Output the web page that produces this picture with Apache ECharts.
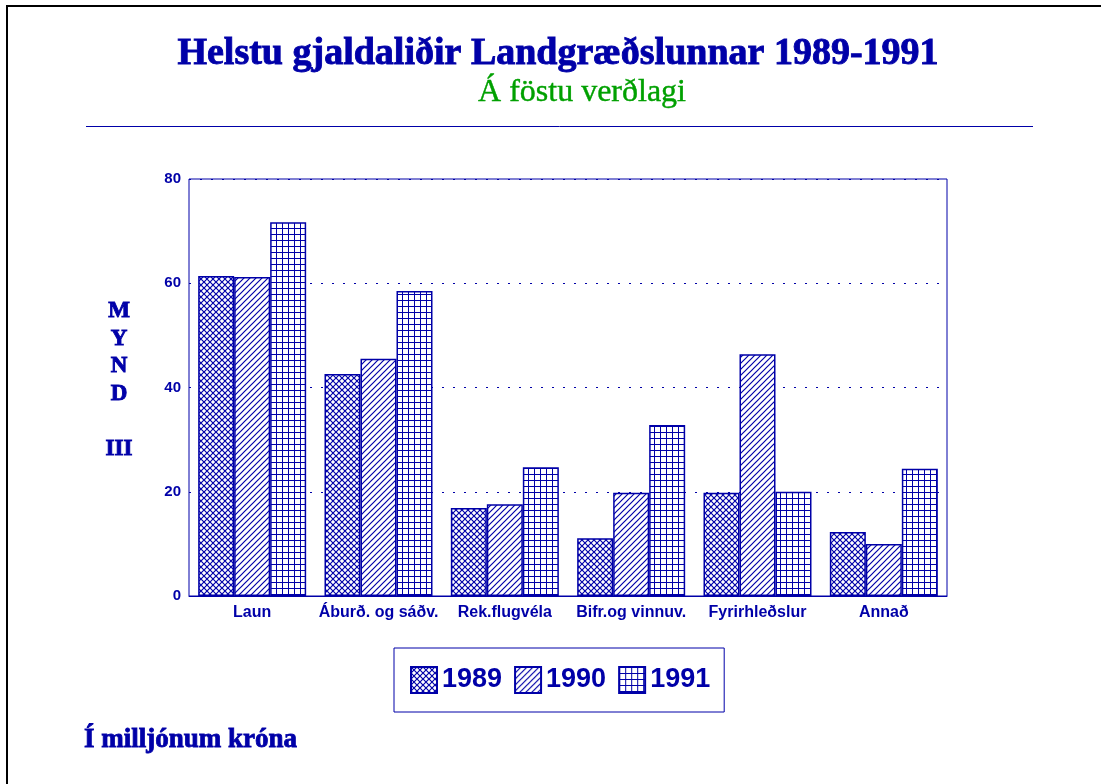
<!DOCTYPE html>
<html>
<head>
<meta charset="utf-8">
<script src="https://cdn.jsdelivr.net/npm/echarts@6/dist/echarts.min.js"></script>
<style>
  html, body { margin: 0; padding: 0; background: #fff; }
  #chart { width: 1101px; height: 784px; }
</style>
</head>
<body>
<div id="chart"></div>
<script>
// gögn lesin af myndinni (milljónir króna)
const categories = ['Laun', 'Áburð. og sáðv.', 'Rek.flugvéla', 'Bifr.og vinnuv.', 'Fyrirhleðslur', 'Annað'];
const years = ['1989', '1990', '1991'];
const v1989 = [61.4, 42.6, 16.9, 11.1, 19.8, 12.3];
const v1990 = [61.2, 45.5, 17.6, 19.8, 46.4, 10.0];
const v1991 = [71.7, 58.5, 24.7, 32.8, 20.0, 24.4];
const yTicks = [0, 20, 40, 60, 80];

const BLUE = '#0000a8';

// mynstur fyrir súlurnar
function makePattern(kind) {
    const s = 6;
    const c = document.createElement('canvas');
    c.width = s; c.height = s;
    const g = c.getContext('2d');
    g.fillStyle = '#fff';
    g.fillRect(0, 0, s, s);
    g.strokeStyle = BLUE;
    g.lineWidth = 1.2;
    g.beginPath();
    if (kind === 'cross') {
        g.moveTo(0, 0); g.lineTo(s, s);
        g.moveTo(s, 0); g.lineTo(0, s);
    } else if (kind === 'diag') {
        g.moveTo(-1, s + 1); g.lineTo(s + 1, -1);
        g.moveTo(-1, 1); g.lineTo(1, -1);
        g.moveTo(s - 1, s + 1); g.lineTo(s + 1, s - 1);
    } else {
        g.lineWidth = 1;
        g.moveTo(0, 0.5); g.lineTo(s, 0.5);
        g.moveTo(0.5, 0); g.lineTo(0.5, s);
    }
    g.stroke();
    return { image: c, repeat: 'repeat' };
}

const patterns = [makePattern('cross'), makePattern('diag'), makePattern('grid')];
const values = [v1989, v1990, v1991];

const chart = echarts.init(document.getElementById('chart'));

const serif = '"Liberation Serif", "DejaVu Serif", serif';
const sans = '"Liberation Sans", Arial, sans-serif';

function heavy(text, x, y, size, extra) {
    return Object.assign({
        type: 'text', x: x, y: y,
        style: { text: text, fill: BLUE, stroke: BLUE, lineWidth: 0.9, font: 'bold ' + size + 'px ' + serif, textAlign: 'center' }
    }, extra || {});
}

chart.setOption({
    backgroundColor: '#fff',
    animation: false,
    grid: {
        left: 189, right: 154, top: 179, bottom: 188,
        show: true, borderColor: BLUE, borderWidth: 1
    },
    legend: {
        data: years,
        left: 394, top: 648,
        padding: [18, 14, 18, 16],
        itemWidth: 26, itemHeight: 26, itemGap: 12,
        icon: 'rect',
        borderColor: BLUE, borderWidth: 1,
        textStyle: { color: BLUE, fontFamily: sans, fontWeight: 'bold', fontSize: 27, padding: [6, 0, 0, 0] }
    },
    xAxis: {
        type: 'category',
        data: categories,
        axisLine: { lineStyle: { color: BLUE } },
        axisTick: { show: false },
        axisLabel: { color: BLUE, fontFamily: sans, fontWeight: 'bold', fontSize: 16, margin: 9, interval: 0 }
    },
    yAxis: {
        type: 'value',
        min: yTicks[0], max: yTicks[yTicks.length - 1], interval: 20,
        axisLine: { show: false },
        axisTick: { show: false },
        axisLabel: { color: BLUE, fontFamily: sans, fontWeight: 'bold', fontSize: 15, margin: 8 },
        splitLine: { lineStyle: { color: BLUE, type: [2, 9], width: 1 } }
    },
    series: years.map((y, i) => ({
        name: y,
        type: 'bar',
        data: values[i],
        barWidth: 36,
        barGap: '0%',
        itemStyle: { color: patterns[i], borderColor: BLUE, borderWidth: 1.5 }
    })),
    graphic: [
        // rammi
        { type: 'line', shape: { x1: 7, y1: 6, x2: 1101, y2: 6 }, style: { stroke: '#000', lineWidth: 2 } },
        { type: 'line', shape: { x1: 7, y1: 5, x2: 7, y2: 784 }, style: { stroke: '#000', lineWidth: 2 } },
        // fyrirsögn
        heavy('Helstu gjaldaliðir Landgræðslunnar 1989-1991', 558, 35, 38),
        { type: 'text', x: 582, y: 77, style: { text: 'Á föstu verðlagi', fill: '#00a000', stroke: '#00a000', lineWidth: 0.4, font: '32px ' + serif, textAlign: 'center' } },
        { type: 'line', shape: { x1: 86, y1: 126.5, x2: 1033, y2: 126.5 }, style: { stroke: BLUE, lineWidth: 1 } },
        // MYND III
        heavy('M', 119, 300, 23),
        heavy('Y', 119, 328, 23),
        heavy('N', 119, 355, 23),
        heavy('D', 119, 383, 23),
        heavy('III', 119, 438, 23),
        // eining
        { type: 'text', x: 84, y: 727, style: { text: 'Í milljónum króna', fill: BLUE, stroke: BLUE, lineWidth: 0.8, font: 'bold 27px ' + serif } }
    ]
});
</script>
</body>
</html>
